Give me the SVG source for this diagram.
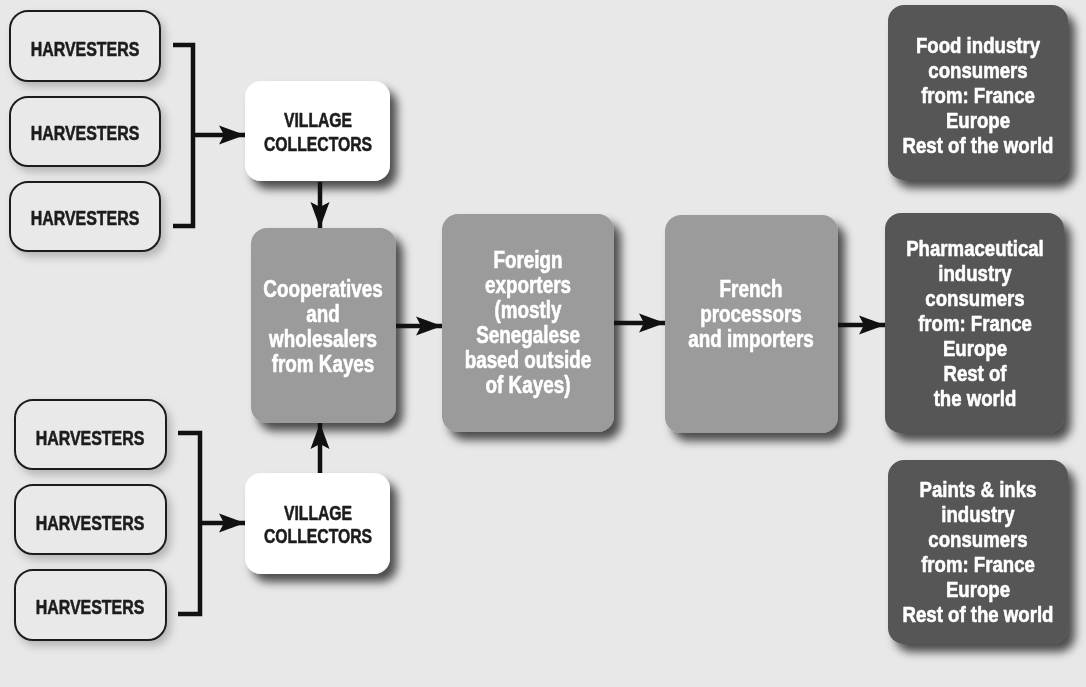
<svg xmlns="http://www.w3.org/2000/svg" width="1086" height="687" viewBox="0 0 1086 687">
  <defs>
    <filter id="shadow" x="-20%" y="-20%" width="150%" height="150%">
      <feDropShadow dx="7" dy="8" stdDeviation="5" flood-color="#000" flood-opacity="0.68"/>
    </filter>
    <filter id="glow" x="-20%" y="-30%" width="150%" height="170%">
      <feDropShadow dx="4" dy="5" stdDeviation="4" flood-color="#000" flood-opacity="0.22"/>
    </filter>
    <marker id="arrow" markerUnits="userSpaceOnUse" markerWidth="30" markerHeight="22" viewBox="-28 -11 30 22" refX="0" refY="0" orient="auto">
      <path d="M0,0 L-26,-9.5 L-21,0 L-26,9.5 Z" fill="#111"/>
    </marker>
    <style>
      .bg { fill: #e8e8e8; }
      .harv { fill: #e9e9e9; stroke: #1e1e1e; stroke-width: 2; }
      .white { fill: #ffffff; }
      .mid { fill: #9b9b9b; }
      .dark { fill: #565656; }
      text { font-family: "Liberation Sans", Arial, sans-serif; font-weight: bold; text-anchor: middle; stroke-width: 0.6; stroke-linejoin: round; }
      .tdark { fill: #1c1c1c; stroke: #1c1c1c; font-size: 21px; }
      .tlight { fill: #ffffff; stroke: #ffffff; font-size: 23px; }
      .conn { fill: none; stroke: #111; stroke-width: 4.5; }
    </style>
  </defs>

  <rect class="bg" x="0" y="0" width="1086" height="687"/>

  <!-- upper harvesters -->
  <g id="harvesters-top-1" filter="url(#glow)">
    <rect class="harv" x="10" y="11" width="150" height="70" rx="18"/>
    <text class="tdark" transform="translate(85,56) scale(0.76,1)">HARVESTERS</text>
  </g>
  <g id="harvesters-top-2" filter="url(#glow)">
    <rect class="harv" x="10" y="97" width="150" height="69" rx="18"/>
    <text class="tdark" transform="translate(85,140) scale(0.76,1)">HARVESTERS</text>
  </g>
  <g id="harvesters-top-3" filter="url(#glow)">
    <rect class="harv" x="10" y="182" width="150" height="69" rx="18"/>
    <text class="tdark" transform="translate(85,225) scale(0.76,1)">HARVESTERS</text>
  </g>

  <!-- lower harvesters -->
  <g id="harvesters-bottom-1" filter="url(#glow)">
    <rect class="harv" x="15" y="400" width="151" height="69" rx="18"/>
    <text class="tdark" transform="translate(90,445) scale(0.76,1)">HARVESTERS</text>
  </g>
  <g id="harvesters-bottom-2" filter="url(#glow)">
    <rect class="harv" x="15" y="485" width="151" height="69" rx="18"/>
    <text class="tdark" transform="translate(90,530) scale(0.76,1)">HARVESTERS</text>
  </g>
  <g id="harvesters-bottom-3" filter="url(#glow)">
    <rect class="harv" x="15" y="570" width="151" height="70" rx="18"/>
    <text class="tdark" transform="translate(90,614) scale(0.76,1)">HARVESTERS</text>
  </g>

  <!-- village collectors -->
  <g id="village-collectors-top" filter="url(#shadow)">
    <rect class="white" x="245" y="81" width="145" height="100" rx="16"/>
    <text class="tdark" transform="translate(318,127) scale(0.75,1)">VILLAGE</text>
    <text class="tdark" transform="translate(318,151) scale(0.75,1)">COLLECTORS</text>
  </g>
  <g id="village-collectors-bottom" filter="url(#shadow)">
    <rect class="white" x="245" y="473" width="145" height="101" rx="16"/>
    <text class="tdark" transform="translate(318,520) scale(0.75,1)">VILLAGE</text>
    <text class="tdark" transform="translate(318,543) scale(0.75,1)">COLLECTORS</text>
  </g>

  <!-- main chain -->
  <g id="cooperatives" filter="url(#shadow)">
    <rect class="mid" x="251" y="228" width="145" height="195" rx="16"/>
    <text class="tlight" transform="translate(323,297) scale(0.82,1)">Cooperatives</text>
    <text class="tlight" transform="translate(323,322) scale(0.82,1)">and</text>
    <text class="tlight" transform="translate(323,347) scale(0.82,1)">wholesalers</text>
    <text class="tlight" transform="translate(323,372) scale(0.82,1)">from Kayes</text>
  </g>
  <g id="foreign-exporters" filter="url(#shadow)">
    <rect class="mid" x="442" y="214" width="172" height="218" rx="16"/>
    <text class="tlight" transform="translate(528,268) scale(0.82,1)">Foreign</text>
    <text class="tlight" transform="translate(528,293) scale(0.82,1)">exporters</text>
    <text class="tlight" transform="translate(528,318) scale(0.82,1)">(mostly</text>
    <text class="tlight" transform="translate(528,343) scale(0.82,1)">Senegalese</text>
    <text class="tlight" transform="translate(528,368) scale(0.82,1)">based outside</text>
    <text class="tlight" transform="translate(528,393) scale(0.82,1)">of Kayes)</text>
  </g>
  <g id="french-processors" filter="url(#shadow)">
    <rect class="mid" x="665" y="215" width="173" height="218" rx="16"/>
    <text class="tlight" transform="translate(751,297) scale(0.82,1)">French</text>
    <text class="tlight" transform="translate(751,322) scale(0.82,1)">processors</text>
    <text class="tlight" transform="translate(751,347) scale(0.82,1)">and importers</text>
  </g>

  <!-- end consumers -->
  <g id="food-industry" filter="url(#shadow)">
    <rect class="dark" x="888" y="5" width="180" height="175" rx="16"/>
    <text class="tlight" transform="translate(978,53) scale(0.81,1)">Food industry</text>
    <text class="tlight" transform="translate(978,78) scale(0.81,1)">consumers</text>
    <text class="tlight" transform="translate(978,103) scale(0.81,1)">from: France</text>
    <text class="tlight" transform="translate(978,128) scale(0.81,1)">Europe</text>
    <text class="tlight" transform="translate(978,153) scale(0.81,1)">Rest of the world</text>
  </g>
  <g id="pharmaceutical-industry" filter="url(#shadow)">
    <rect class="dark" x="885" y="213" width="179" height="220" rx="16"/>
    <text class="tlight" transform="translate(975,256) scale(0.81,1)">Pharmaceutical</text>
    <text class="tlight" transform="translate(975,281) scale(0.81,1)">industry</text>
    <text class="tlight" transform="translate(975,306) scale(0.81,1)">consumers</text>
    <text class="tlight" transform="translate(975,331) scale(0.81,1)">from: France</text>
    <text class="tlight" transform="translate(975,356) scale(0.81,1)">Europe</text>
    <text class="tlight" transform="translate(975,381) scale(0.81,1)">Rest of</text>
    <text class="tlight" transform="translate(975,406) scale(0.81,1)">the world</text>
  </g>
  <g id="paints-inks-industry" filter="url(#shadow)">
    <rect class="dark" x="888" y="460" width="180" height="184" rx="16"/>
    <text class="tlight" transform="translate(978,497) scale(0.81,1)">Paints &amp; inks</text>
    <text class="tlight" transform="translate(978,522) scale(0.81,1)">industry</text>
    <text class="tlight" transform="translate(978,547) scale(0.81,1)">consumers</text>
    <text class="tlight" transform="translate(978,572) scale(0.81,1)">from: France</text>
    <text class="tlight" transform="translate(978,597) scale(0.81,1)">Europe</text>
    <text class="tlight" transform="translate(978,622) scale(0.81,1)">Rest of the world</text>
  </g>

  <!-- connectors -->
  <g id="connectors">
    <path class="conn" d="M173,45 H193 V226 H173"/>
    <path class="conn" d="M193,135 H245" marker-end="url(#arrow)"/>
    <path class="conn" d="M178,433 H200 V614 H178"/>
    <path class="conn" d="M200,523 H245" marker-end="url(#arrow)"/>
    <path class="conn" d="M320,182 V228" marker-end="url(#arrow)"/>
    <path class="conn" d="M320,473 V423" marker-end="url(#arrow)"/>
    <path class="conn" d="M396,326 H442" marker-end="url(#arrow)"/>
    <path class="conn" d="M614,323 H665" marker-end="url(#arrow)"/>
    <path class="conn" d="M838,325 H885" marker-end="url(#arrow)"/>
  </g>
</svg>
